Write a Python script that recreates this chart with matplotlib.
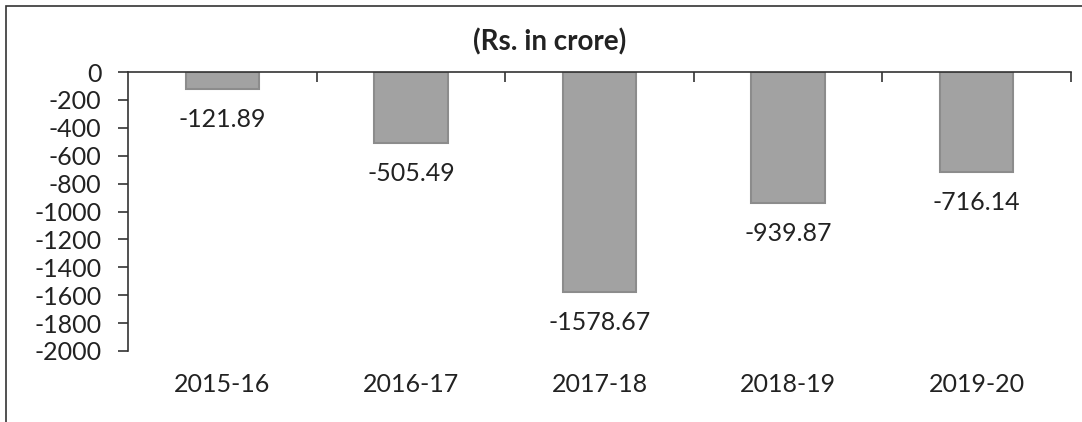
import numpy as np
import matplotlib
matplotlib.use("Agg")
import matplotlib.pyplot as plt
from matplotlib.patches import Rectangle

years = ["2015-16", "2016-17", "2017-18", "2018-19", "2019-20"]
values = [-121.89, -505.49, -1578.67, -939.87, -716.14]
yticks = list(range(0, -2001, -200))

plt.rcParams['font.family'] = ['Lato', 'DejaVu Sans']
fs = 18

fig = plt.figure(figsize=(10.82, 4.22), dpi=100)
ax = fig.add_axes([128/1082, 1-351/422, (1071-128)/1082, (351-72)/422])

x = np.arange(len(years))
bars = ax.bar(x, values, width=0.39, color='#a2a2a2', edgecolor='#8c8c8c', linewidth=1.5)

for xi, v in zip(x, values):
    ax.annotate("{:.2f}".format(v), (xi, v), xytext=(0, -22), textcoords='offset points',
                ha='center', va='center', fontsize=fs, color='#222222')

ax.set_xlim(-0.5, len(years)-0.5)
ax.set_ylim(-2000, 0)
ax.set_yticks(yticks)
ax.set_yticklabels([str(t) for t in yticks], fontsize=fs, color='#222222')
ax.set_xticks(x)
ax.set_xticklabels(years, fontsize=fs, color='#222222')
ax.set_xticks(np.arange(0.5, len(years)), minor=True)

ax.tick_params(axis='x', which='major', length=0, pad=16, bottom=True, top=False)
ax.tick_params(axis='x', which='minor', top=True, bottom=False, direction='in', length=7, width=1.2, color='#333333')
ax.tick_params(axis='y', which='major', direction='out', length=7, width=1.2, pad=12, color='#333333')

ax.spines['bottom'].set_visible(False)
ax.spines['right'].set_visible(False)
for s in ['top', 'left']:
    ax.spines[s].set_linewidth(1.2)
    ax.spines[s].set_color('#333333')

fig.text(550/1082, 1-42/422, "(Rs. in crore)", ha='center', va='center',
         fontsize=20, fontweight='bold', color='#222222')

fig.patches.append(Rectangle((6/1082, -0.1), 1.2, 1.1-6/422, transform=fig.transFigure,
                             fill=False, edgecolor='#333333', linewidth=1.2, clip_on=False))

fig.savefig("out.png", dpi=100)
